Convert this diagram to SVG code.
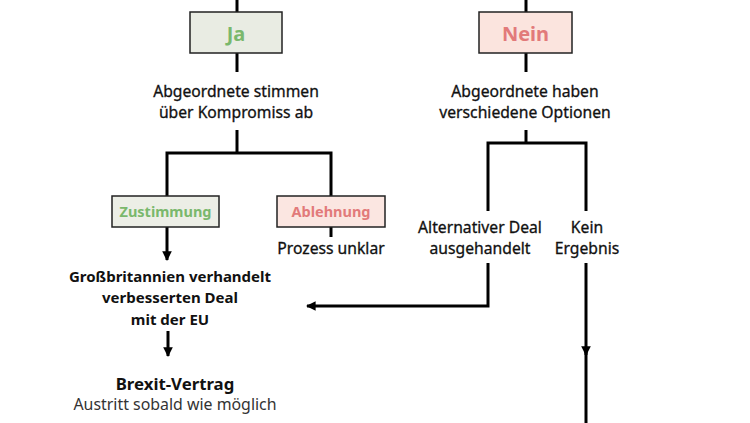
<svg xmlns="http://www.w3.org/2000/svg" width="750" height="423" viewBox="0 0 750 423">
<defs>
<style>
.t{font-family:"Noto Sans","Open Sans","DejaVu Sans",sans-serif;font-size:15.7px;fill:#111;text-anchor:middle}
.n{stroke:#111;stroke-width:0.3}
.b{font-weight:bold}
.ln{fill:none;stroke:#000;stroke-width:3}
.box{stroke:#222;stroke-width:1.5}
.g{fill:#7ab86c;font-weight:bold}
.r{fill:#e27a7a;font-weight:bold}
</style>
<marker id="ah" viewBox="0 0 10 10" refX="9" refY="5" markerWidth="3.2" markerHeight="3.2" orient="auto" markerUnits="strokeWidth">
<path d="M0,0 L10,5 L0,10 z" fill="#000"/>
</marker>
</defs>
<rect width="750" height="423" fill="#fff"/>
<g id="connectors">
<path class="ln" d="M237,0 V12"/>
<path class="ln" d="M237,53 V72"/>
<path class="ln" d="M237,130 V153"/>
<path class="ln" d="M167,196 V153 H331 V196"/>
<path class="ln" d="M167,227 V260" marker-end="url(#ah)"/>
<path class="ln" d="M331,227 V237"/>
<path class="ln" d="M168,331 V356" marker-end="url(#ah)"/>
<path class="ln" d="M526,0 V12"/>
<path class="ln" d="M526,53 V72"/>
<path class="ln" d="M526,130 V143"/>
<path class="ln" d="M488,211 V143 H586 V211"/>
<path class="ln" d="M488,263 V306 H307" marker-end="url(#ah)"/>
<path class="ln" d="M586,263 V355" marker-end="url(#ah)"/>
<path class="ln" d="M586,350 V423"/>
</g>
<g id="ja">
<rect class="box" x="190" y="12" width="92" height="41" fill="#e9ece3"/>
<text class="t g" x="236" y="41" style="font-size:20px">Ja</text>
</g>
<g id="nein">
<rect class="box" x="479" y="12" width="93" height="41" fill="#fbe4de"/>
<text class="t r" x="525.5" y="41" style="font-size:20px">Nein</text>
</g>
<g id="abstimmen">
<text class="t n" x="236" y="97">Abgeordnete stimmen</text>
<text class="t n" x="236" y="118">über Kompromiss ab</text>
</g>
<g id="optionen">
<text class="t n" x="525" y="97">Abgeordnete haben</text>
<text class="t n" x="525" y="118">verschiedene Optionen</text>
</g>
<g id="zustimmung">
<rect class="box" x="112" y="196" width="107" height="31" fill="#eceee6"/>
<text class="t g" x="165.5" y="217" style="font-size:14.5px">Zustimmung</text>
</g>
<g id="ablehnung">
<rect class="box" x="277" y="196" width="108" height="31" fill="#fbe6e1"/>
<text class="t r" x="331" y="217" style="font-size:14.5px">Ablehnung</text>
</g>
<g id="prozess">
<text class="t n" x="331" y="254">Prozess unklar</text>
</g>
<g id="verhandelt">
<text class="t b" x="170" y="282" style="font-size:15px">Großbritannien verhandelt</text>
<text class="t b" x="170" y="303" style="font-size:15px">verbesserten Deal</text>
<text class="t b" x="170" y="325" style="font-size:15px">mit der EU</text>
</g>
<g id="vertrag">
<text class="t b" x="175" y="390" style="font-size:16.8px">Brexit-Vertrag</text>
<text class="t" x="175" y="410" style="fill:#333;font-size:15.9px">Austritt sobald wie möglich</text>
</g>
<g id="alternativ">
<text class="t n" x="480" y="233">Alternativer Deal</text>
<text class="t n" x="480" y="254">ausgehandelt</text>
</g>
<g id="kein">
<text class="t n" x="587" y="233">Kein</text>
<text class="t n" x="587" y="254">Ergebnis</text>
</g>
</svg>
